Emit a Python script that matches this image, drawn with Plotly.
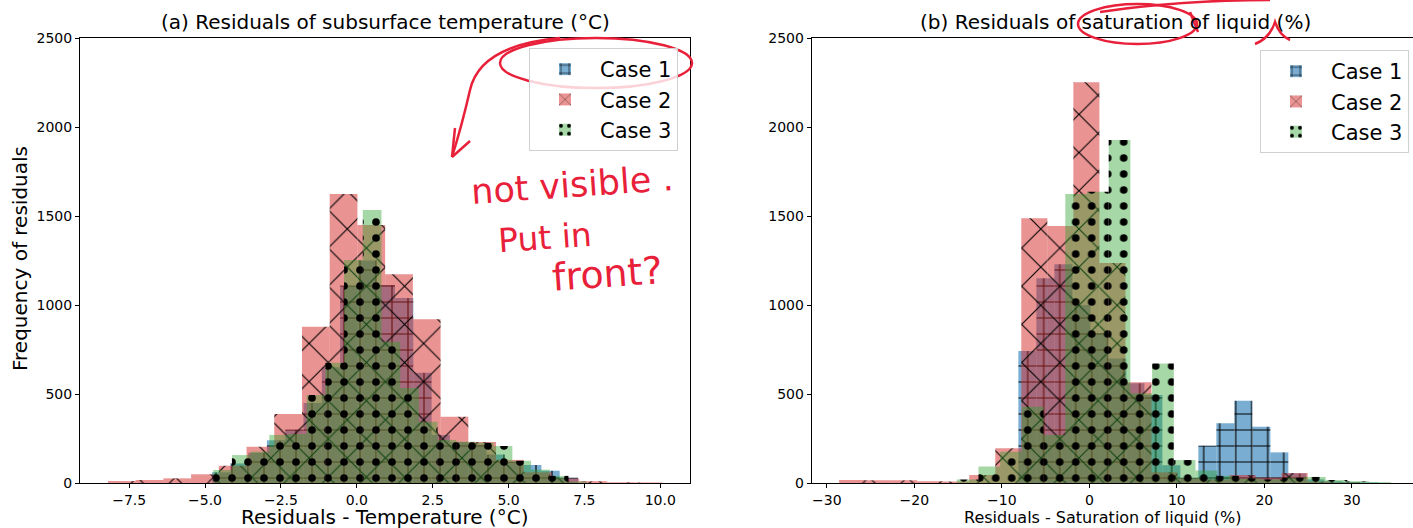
import numpy as np
import plotly.graph_objects as go

W, H = 1413, 528

# ---------------- data : (a) subsurface temperature residuals ----------------
temp_case1_start, temp_case1_width = -4.77, 0.603
temp_case1_counts = [60, 110, 170, 240, 300, 450, 650, 1110, 1250, 1112,
                     1039, 620, 270, 230, 215, 160, 120, 101, 69, 30]
temp_case2_start, temp_case2_width = -8.2, 0.9135
temp_case2_counts = [11, 17, 26, 49, 97, 204, 388, 878, 1624, 1450,
                     1173, 920, 372, 230, 130, 60, 25, 10, 4, 3]
temp_case3_start, temp_case3_width = -4.73, 0.616
temp_case3_counts = [73, 157, 176, 270, 275, 494, 676, 1253, 1534, 794,
                     534, 344, 242, 232, 226, 208, 125, 75, 40, 8]

# ---------------- data : (b) saturation of liquid residuals ----------------
sat_case1_start, sat_case1_width = -8.11, 2.057
sat_case1_counts = [742, 1150, 1229, 1000, 843, 700, 560, 494, 100, 30,
                    210, 335, 462, 316, 172, 54, 20, 10, 6, 3]
sat_case2_start, sat_case2_width = -28.6, 2.975
sat_case2_counts = [17, 15, 15, 10, 8, 45, 195, 1487, 1444, 2251,
                    1236, 566, 60, 25, 20, 45, 30, 56, 8, 3]
sat_case3_start, sat_case3_width = -15.15, 2.48
sat_case3_counts = [20, 92, 176, 429, 270, 1624, 1636, 1927, 504, 672,
                    129, 70, 40, 25, 20, 30, 34, 17, 10, 5]

case_names = ["Case 1", "Case 2", "Case 3"]
temp_xticks = [-7.5, -5.0, -2.5, 0.0, 2.5, 5.0, 7.5, 10.0]
temp_xticklabels = ["\u22127.5", "\u22125.0", "\u22122.5", "0.0", "2.5", "5.0", "7.5", "10.0"]
sat_xticks = [-30, -20, -10, 0, 10, 20, 30]
sat_xticklabels = ["\u221230", "\u221220", "\u221210", "0", "10", "20", "30"]
yticks = [0, 500, 1000, 1500, 2000, 2500]

# ---------------- styling ----------------
colors = ["rgba(31,119,180,0.6)", "rgba(214,39,40,0.5)", "rgba(44,160,44,0.42)"]
patterns = [
    dict(shape="+", fgcolor="black", fgopacity=1, size=16, solidity=0.14, fillmode="overlay"),
    dict(shape="x", fgcolor="black", fgopacity=1, size=27, solidity=0.08, fillmode="overlay"),
    dict(shape=".", fgcolor="black", fgopacity=1, size=16, solidity=0.18, fillmode="overlay"),
]
FONT = "DejaVu Sans"

fig = go.Figure()

def add_hist(start, width, counts, idx, xa, ya, legend):
    counts = np.asarray(counts, dtype=float)
    centers = start + width * (np.arange(len(counts)) + 0.5)
    fig.add_trace(go.Bar(
        x=centers, y=counts, width=width,
        marker=dict(color=colors[idx], line=dict(width=0), pattern=patterns[idx]),
        name=case_names[idx], xaxis=xa, yaxis=ya, legend=legend,
    ))

add_hist(temp_case1_start, temp_case1_width, temp_case1_counts, 0, "x", "y", "legend")
add_hist(temp_case2_start, temp_case2_width, temp_case2_counts, 1, "x", "y", "legend")
add_hist(temp_case3_start, temp_case3_width, temp_case3_counts, 2, "x", "y", "legend")
add_hist(sat_case1_start, sat_case1_width, sat_case1_counts, 0, "x2", "y2", "legend2")
add_hist(sat_case2_start, sat_case2_width, sat_case2_counts, 1, "x2", "y2", "legend2")
add_hist(sat_case3_start, sat_case3_width, sat_case3_counts, 2, "x2", "y2", "legend2")

def px(x):
    return x / W

def py(y):
    return (H - y) / H

ydom = [py(483), py(38)]
axis_common = dict(showline=True, linecolor="black", linewidth=1, ticks="outside",
                   ticklen=4, tickcolor="black", showgrid=False, zeroline=False, automargin=False,
                   tickfont=dict(family=FONT, size=14, color="black"))

legend_common = dict(font=dict(family=FONT, size=21, color="black"),
                     bgcolor="rgba(255,255,255,0.8)", bordercolor="#d0d0d0", borderwidth=1,
                     yanchor="top", xanchor="right", itemwidth=60, tracegroupgap=0)

fig.update_layout(
    width=W, height=H, margin=dict(l=0, r=0, t=0, b=0, autoexpand=False),
    paper_bgcolor="white", plot_bgcolor="white", barmode="overlay",
    font=dict(family=FONT, color="black"),
    xaxis=dict(domain=[px(80), px(690)], range=[-9.12, 10.98], anchor="y", mirror=True,
               tickvals=temp_xticks, ticktext=temp_xticklabels, **axis_common),
    yaxis=dict(domain=ydom, range=[0, 2500], anchor="x", mirror=True, tickvals=yticks,
               **axis_common),
    xaxis2=dict(domain=[px(811.7), 1.0], range=[-31.73, 36.99], anchor="y2", mirror=True,
                tickvals=sat_xticks, ticktext=sat_xticklabels, **axis_common),
    yaxis2=dict(domain=ydom, range=[0, 2500], anchor="x2", mirror=False, tickvals=yticks,
                **axis_common),
    legend=dict(x=px(678), y=py(48), **legend_common),
    legend2=dict(x=px(1409), y=py(50), **legend_common),
)

def text(t, x, y, size, color="black", angle=0):
    fig.add_annotation(text=t, x=px(x), y=py(y), xref="paper", yref="paper", showarrow=False,
                       xanchor="center", yanchor="middle", textangle=angle,
                       font=dict(family=FONT, size=size, color=color))

# subplot titles and axis titles
text("(a) Residuals of subsurface temperature (\u00b0C)", 385, 22, 20)
text("(b) Residuals of saturation of liquid (%)", 1115, 22, 20)
text("Residuals - Temperature (\u00b0C)", 384, 517, 20)
text("Residuals - Saturation of liquid (%)", 1102, 517, 16)
text("Frequency of residuals", 20, 259, 20, angle=-90)

# ---------------- red reviewer scribbles ----------------
RED = "#e8203a"

def path(points_str):
    out = []
    for tok in points_str.split():
        if "," in tok:
            a, b = tok.split(",")
            out.append(f"{px(float(a)):.5f},{py(float(b)):.5f}")
        else:
            out.append(tok)
    return " ".join(out)

scribble = dict(type="path", xref="paper", yref="paper", line=dict(color=RED, width=2.5))
fig.add_shape(type="circle", xref="paper", yref="paper", x0=px(500), x1=px(692), y0=py(88), y1=py(38),
              line=dict(color=RED, width=2.5))
fig.add_shape(path=path("M 560,38 Q 480,45 470,90 Q 462,125 452,157"), **scribble)
fig.add_shape(path=path("M 452,157 L 470,141"), **scribble)
fig.add_shape(path=path("M 452,157 L 455,128"), **scribble)
fig.add_shape(type="circle", xref="paper", yref="paper", x0=px(1078), x1=px(1197), y0=py(44), y1=py(4),
              line=dict(color=RED, width=2.5))
fig.add_shape(path=path("M 1100,12 Q 1180,0 1270,0"), **scribble)
fig.add_shape(path=path("M 1190,12 L 1198,32"), **scribble)
fig.add_shape(path=path("M 1255,44 Q 1270,38 1275,22 Q 1280,36 1290,40"), **scribble)

for t, x, y, sz in [("not visible .", 572, 185, 35), ("Put in", 545, 237, 33), ("front?", 607, 274, 38)]:
    text(t, x, y, sz, color=RED, angle=-4)

fig.write_html("out.html")
